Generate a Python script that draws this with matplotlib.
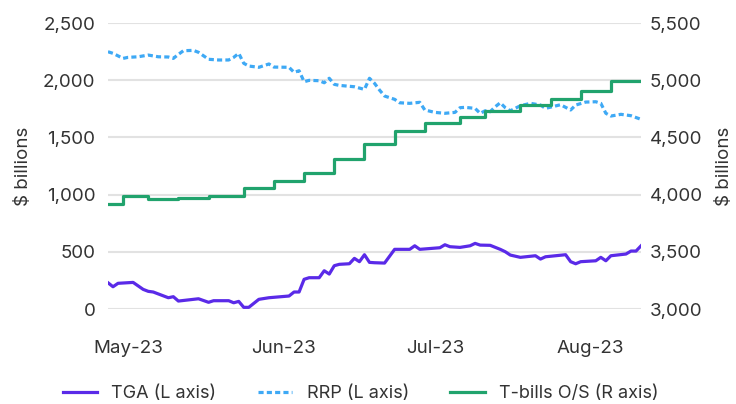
import pandas as pd
import matplotlib.pyplot as plt
import matplotlib.dates as mdates
from matplotlib.ticker import FuncFormatter

plt.rcParams['font.family'] = ['Inter', 'DejaVu Sans']

# TGA, $ billions (left axis)
tga_dates = ['2023-04-27', '2023-04-28', '2023-04-29', '2023-05-02', '2023-05-04', '2023-05-05',
             '2023-05-06', '2023-05-09', '2023-05-10', '2023-05-11', '2023-05-15', '2023-05-17',
             '2023-05-18', '2023-05-21', '2023-05-22', '2023-05-23', '2023-05-24', '2023-05-25',
             '2023-05-27', '2023-05-29', '2023-06-02', '2023-06-03', '2023-06-04', '2023-06-05',
             '2023-06-06', '2023-06-08', '2023-06-09', '2023-06-10', '2023-06-11', '2023-06-12',
             '2023-06-14', '2023-06-15', '2023-06-16', '2023-06-17', '2023-06-18', '2023-06-19',
             '2023-06-21', '2023-06-23', '2023-06-26', '2023-06-27', '2023-06-28', '2023-07-02',
             '2023-07-03', '2023-07-04', '2023-07-06', '2023-07-08', '2023-07-09', '2023-07-10',
             '2023-07-12', '2023-07-14', '2023-07-15', '2023-07-16', '2023-07-18', '2023-07-21',
             '2023-07-22', '2023-07-23', '2023-07-27', '2023-07-28', '2023-07-29', '2023-07-30',
             '2023-08-02', '2023-08-03', '2023-08-04', '2023-08-05', '2023-08-08', '2023-08-09',
             '2023-08-10', '2023-08-11']
tga = [230, 195, 225, 233, 172, 155,
       149, 99, 108, 70, 90, 59,
       73, 73, 55, 67, 15, 15,
       85, 99, 114, 149, 149, 260,
       274, 274, 335, 306, 379, 391,
       396, 443, 414, 475, 408, 405,
       402, 522, 522, 553, 522, 536,
       562, 545, 539, 553, 574, 559,
       557, 522, 501, 472, 452, 466,
       437, 457, 475, 414, 396, 414,
       422, 452, 422, 466, 481, 507,
       507, 553]

# RRP, $ billions (left axis)
rrp_dates = ['2023-04-27', '2023-04-28', '2023-04-30', '2023-05-01', '2023-05-03', '2023-05-05',
             '2023-05-07', '2023-05-09', '2023-05-10', '2023-05-11', '2023-05-12', '2023-05-14',
             '2023-05-15', '2023-05-17', '2023-05-19', '2023-05-21', '2023-05-22', '2023-05-23',
             '2023-05-24', '2023-05-25', '2023-05-27', '2023-05-29', '2023-05-30', '2023-06-02',
             '2023-06-03', '2023-06-04', '2023-06-05', '2023-06-06', '2023-06-08', '2023-06-09',
             '2023-06-10', '2023-06-11', '2023-06-12', '2023-06-15', '2023-06-17', '2023-06-18',
             '2023-06-19', '2023-06-20', '2023-06-21', '2023-06-23', '2023-06-24', '2023-06-26',
             '2023-06-28', '2023-06-29', '2023-07-01', '2023-07-03', '2023-07-05', '2023-07-06',
             '2023-07-07', '2023-07-09', '2023-07-10', '2023-07-11', '2023-07-12', '2023-07-13',
             '2023-07-14', '2023-07-15', '2023-07-16', '2023-07-18', '2023-07-20', '2023-07-22',
             '2023-07-23', '2023-07-26', '2023-07-28', '2023-07-29', '2023-07-31', '2023-08-02',
             '2023-08-03', '2023-08-04', '2023-08-05', '2023-08-07', '2023-08-09', '2023-08-11']
rrp = [2249, 2235, 2191, 2200, 2205, 2220,
       2205, 2203, 2191, 2226, 2258, 2261,
       2244, 2183, 2177, 2177, 2200, 2235,
       2148, 2124, 2113, 2142, 2115, 2113,
       2069, 2083, 1987, 1999, 1996, 1978,
       2017, 1964, 1955, 1943, 1920, 2017,
       1973, 1914, 1862, 1833, 1803, 1798,
       1807, 1740, 1719, 1711, 1719, 1760,
       1763, 1754, 1711, 1733, 1725, 1768,
       1803, 1760, 1733, 1777, 1798, 1783,
       1754, 1786, 1740, 1783, 1809, 1812,
       1798, 1711, 1687, 1702, 1690, 1658]

# T-bills outstanding, $ billions (right axis), step changes
tb_dates = ['2023-04-27', '2023-04-30', '2023-05-05', '2023-05-11', '2023-05-17', '2023-05-24',
            '2023-05-30', '2023-06-05', '2023-06-11', '2023-06-17', '2023-06-23', '2023-06-29',
            '2023-07-06', '2023-07-11', '2023-07-18', '2023-07-24', '2023-07-30', '2023-08-05',
            '2023-08-11']
tbills = [3920, 3990, 3960, 3970, 3990, 4055,
          4122, 4186, 4309, 4442, 4559, 4629,
          4676, 4731, 4786, 4838, 4905, 4995,
          4995]

month_ticks = ['2023-05-01', '2023-06-01', '2023-07-01', '2023-08-01']

c_tga = '#5a2ae8'
c_rrp = '#3ea9f5'
c_tb = '#21a36d'
c_txt = '#333333'

fig = plt.figure(figsize=(7.36, 4.04), dpi=100)
ax = fig.add_axes([0.1467, 0.235, 0.7243, 0.708])
ax2 = ax.twinx()

ax.plot(pd.to_datetime(tga_dates), tga, color=c_tga, lw=2.3, label='TGA (L axis)', zorder=3)
ax.plot(pd.to_datetime(rrp_dates), rrp, color=c_rrp, lw=2.3, linestyle=(0, (1.6, 1.0)),
        label='RRP (L axis)', zorder=3)
ax2.plot(pd.to_datetime(tb_dates), tbills, color=c_tb, lw=2.3, drawstyle='steps-post',
         label='T-bills O/S (R axis)')

ax.set_ylim(0, 2500)
ax2.set_ylim(3000, 5500)
ax.set_yticks(range(0, 2501, 500))
ax2.set_yticks(range(3000, 5501, 500))
fmt = FuncFormatter(lambda v, p: f'{v:,.0f}')
ax.yaxis.set_major_formatter(fmt)
ax2.yaxis.set_major_formatter(fmt)

ax.set_xlim(pd.Timestamp('2023-04-27'), pd.Timestamp('2023-08-11'))
ax.set_xticks(pd.to_datetime(month_ticks))
ax.xaxis.set_major_formatter(mdates.DateFormatter('%b-%y'))

ax.grid(axis='y', color='#e2e2e2', lw=1.5)
ax.set_axisbelow(True)
for a in (ax, ax2):
    for s in a.spines.values():
        s.set_visible(False)
    a.tick_params(length=0, labelsize=13.5, colors=c_txt)
ax.tick_params(axis='y', pad=9)
ax2.tick_params(axis='y', pad=6)
ax.tick_params(axis='x', pad=22)

ax.set_ylabel('$ billions', fontsize=13.5, color=c_txt, labelpad=8)
ax2.set_ylabel('$ billions', fontsize=13.5, color=c_txt, rotation=90, labelpad=10)

h1, l1 = ax.get_legend_handles_labels()
h2, l2 = ax2.get_legend_handles_labels()
fig.legend(h1 + h2, l1 + l2, loc='center', bbox_to_anchor=(0.49, 0.025), ncol=3,
           frameon=False, fontsize=13, handlelength=1.9, handletextpad=0.8,
           columnspacing=2.3, labelcolor=c_txt)

fig.savefig('out.png', dpi=100)
